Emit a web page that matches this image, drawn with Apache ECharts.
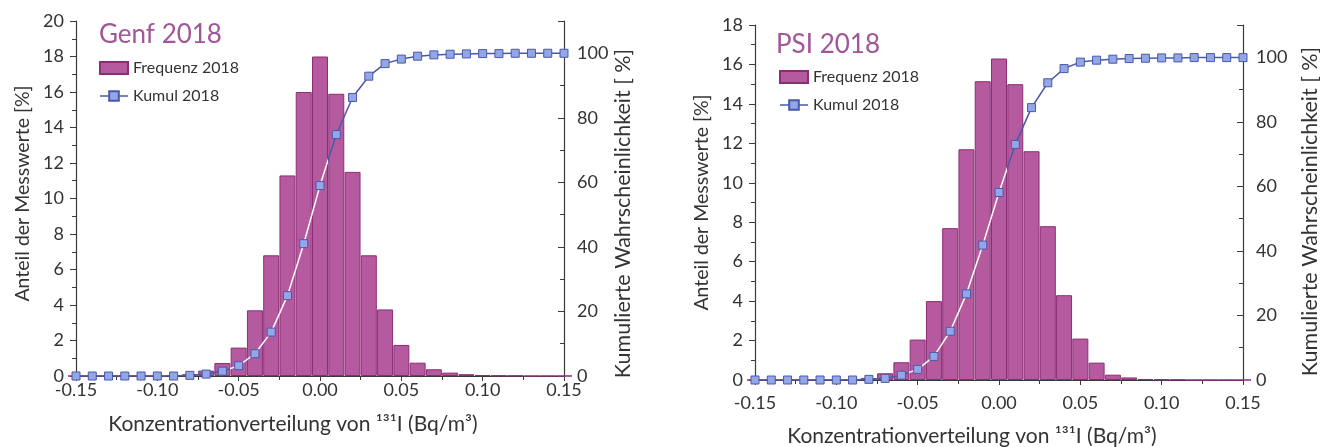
<!DOCTYPE html>
<html><head><meta charset="utf-8">
<script src="https://cdn.jsdelivr.net/npm/echarts@6/dist/echarts.min.js"></script>
<style>html,body{margin:0;padding:0;background:#fff}#c{width:1320px;height:447px}</style>
</head><body><div id="c"></div>
<script>
// bin centres (Bq/m3)
const binCenters = [-0.15,-0.14,-0.13,-0.12,-0.11,-0.10,-0.09,-0.08,-0.07,-0.06,-0.05,-0.04,-0.03,-0.02,-0.01,0.00,
  0.01,0.02,0.03,0.04,0.05,0.06,0.07,0.08,0.09,0.10,0.11,0.12,0.13,0.14,0.15];
// Genf 2018
const genfFreq  = [0,0,0,0,0,0,0.05,0.1,0.3,0.73,1.6,3.7,6.8,11.3,16.0,18.0,
  15.9,11.5,6.8,3.75,1.75,0.75,0.38,0.19,0.1,0.05,0.03,0.02,0,0,0];
const genfCumul = [0,0,0,0,0,0,0,0.2,0.6,1.5,3.2,6.9,13.6,24.9,41.0,59.0,
  74.8,86.3,92.9,96.8,98.2,99.1,99.5,99.7,99.8,99.9,99.9,100,100,100,100];
// PSI 2018
const psiFreq   = [0,0,0,0,0,0,0,0.1,0.34,0.9,2.05,4.0,7.7,11.7,15.15,16.3,
  15.0,11.6,7.8,4.3,2.1,0.88,0.27,0.13,0.05,0.03,0.02,0,0,0,0];
const psiCumul  = [0,0,0,0,0,0,0,0.2,0.5,1.5,3.3,7.3,15.1,26.7,41.8,58.1,
  73.0,84.4,92.1,96.5,98.5,99.1,99.4,99.6,99.7,99.8,99.8,99.9,99.9,99.9,99.9];
const titles = ['Genf 2018', 'PSI 2018'];
const seriesNames = ['Frequenz 2018', 'Kumul 2018'];
const xName = 'Konzentrationverteilung von ¹³¹I (Bq/m³)';
const yLeftName = 'Anteil der Messwerte [%]';
const yRightName = 'Kumulierte Wahrscheinlichkeit [ %]';

const FONT = 'Lato';
const axisColor = '#3a3a3a', textColor = '#333';
const barFill = '#b65a9f', barEdge = '#8b2d75';
const markFill = '#93a7e6', markEdge = '#4a58ab', lineBlue = '#4a58ab';
const titleColor = '#a2569a';

function zip(xs, ys) { return xs.map((x, i) => [x, ys[i]]); }
function lineGradient(xs, from, to) {
  const lo = Math.min(...xs), hi = Math.max(...xs), span = hi - lo;
  const a = (from - lo) / span, b = (to - lo) / span;
  return {type:'linear', x:0, y:0, x2:1, y2:0, colorStops:[
    {offset:0, color:lineBlue}, {offset:a, color:lineBlue}, {offset:a, color:'#ffffff'},
    {offset:b, color:'#ffffff'}, {offset:b, color:lineBlue}, {offset:1, color:lineBlue}]};
}

const grids = [
  {left:76, right:756, top:21, bottom:71, outerBoundsMode:'none', containLabel:false},
  {left:755, right:77, top:25, bottom:67, outerBoundsMode:'none', containLabel:false}
];
const cfg = [
  {freq:genfFreq, cumul:genfCumul, ymax:20, lblMargin:5, xGap:38, yLGap:43, yRGap:47, yLPad:[0,0,0,10], yRPad:[0,30,0,0], legendTop:55, legendLeft:94, titleLeft:94, titleTop:17},
  {freq:psiFreq, cumul:psiCumul, ymax:18, lblMargin:14, xGap:46, yLGap:43, yRGap:56, yLPad:[0,0,0,0], yRPad:[0,18,0,0], legendTop:64, legendLeft:774, titleLeft:771, titleTop:27}
];

const option = {
  animation:false,
  backgroundColor:'#fff',
  textStyle:{fontFamily:FONT},
  title: cfg.map((c, i) => ({text:titles[i], left:c.titleLeft, top:c.titleTop,
    textStyle:{fontFamily:FONT, fontSize:26, fontWeight:'normal', color:titleColor}})),
  legend: cfg.map((c) => ({
    left:c.legendLeft, top:c.legendTop, orient:'vertical', itemWidth:28, itemHeight:12, itemGap:12,
    textStyle:{fontFamily:FONT, fontSize:16, color:textColor},
    data:[{name:seriesNames[0], icon:'rect'}, {name:seriesNames[1], lineStyle:{color:lineBlue, width:1.5}}]
  })),
  grid: grids,
  xAxis: cfg.map((c, i) => ({
    type:'value', gridIndex:i, min:-0.15, max:0.15, interval:0.05,
    name:xName, nameLocation:'middle', nameGap:c.xGap,
    nameTextStyle:{fontFamily:FONT, fontSize:21, color:textColor, padding:[0,54,0,0]},
    axisLine:{show:true, onZero:false, lineStyle:{color:axisColor, width:1.2}},
    axisTick:{show:true, length:5, lineStyle:{color:axisColor}},
    minorTick:{show:true, splitNumber:2, length:4, lineStyle:{color:axisColor}},
    splitLine:{show:false},
    axisLabel:{fontFamily:FONT, fontSize:18, color:textColor, margin:c.lblMargin, formatter:v => v.toFixed(2)}
  })),
  yAxis: [].concat(...cfg.map((c, i) => [
    {type:'value', gridIndex:i, position:'left', min:0, max:c.ymax, interval:2,
     name:yLeftName, nameLocation:'middle', nameRotate:90, nameGap:c.yLGap,
     nameTextStyle:{fontFamily:FONT, fontSize:19.5, color:textColor, padding:c.yLPad},
     axisLine:{show:true, onZero:false, lineStyle:{color:axisColor, width:1.2}},
     axisTick:{show:true, length:6, lineStyle:{color:axisColor}},
     minorTick:{show:true, splitNumber:2, length:4, lineStyle:{color:axisColor}},
     splitLine:{show:false},
     axisLabel:{fontFamily:FONT, fontSize:18, color:textColor, margin:12}},
    {type:'value', gridIndex:i, position:'right', min:0, max:110, interval:20,
     name:yRightName, nameLocation:'middle', nameRotate:90, nameGap:c.yRGap,
     nameTextStyle:{fontFamily:FONT, fontSize:21.5, color:textColor, padding:c.yRPad},
     axisLine:{show:true, onZero:false, lineStyle:{color:axisColor, width:1.2}},
     axisTick:{show:true, inside:true, length:6, lineStyle:{color:axisColor}},
     minorTick:{show:true, splitNumber:2, length:4, lineStyle:{color:axisColor}},
     splitLine:{show:false},
     axisLabel:{fontFamily:FONT, fontSize:18, color:textColor, margin:13, formatter:v => v > 100 ? '' : String(v)}}
  ])),
  series: [].concat(...cfg.map((c, i) => [
    {type:'bar', name:seriesNames[0], xAxisIndex:i, yAxisIndex:2*i, data:zip(binCenters, c.freq),
     barWidth:16, z:2, itemStyle:{color:barFill, borderColor:barEdge, borderWidth:1}},
    {type:'line', name:seriesNames[1], xAxisIndex:i, yAxisIndex:2*i+1, data:zip(binCenters, c.cumul),
     symbol:'rect', symbolSize:8, z:3,
     itemStyle:{color:markFill, borderColor:markEdge, borderWidth:1},
     lineStyle:{width:1.5, color:lineGradient(binCenters, -0.055, 0.005)}}
  ]))
};
const chart = echarts.init(document.getElementById('c'), null, {renderer:'canvas'});
chart.setOption(option);
</script>
</body></html>
